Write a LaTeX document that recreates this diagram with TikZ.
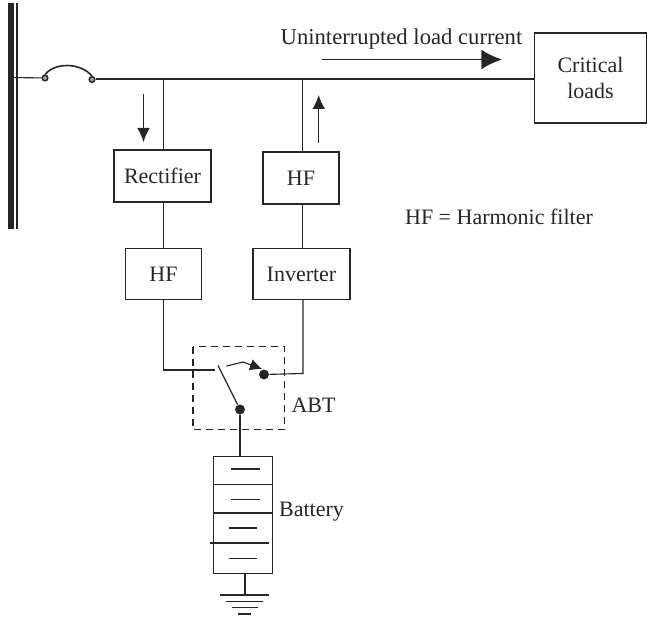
\documentclass[tikz,border=0pt]{standalone}
\usepackage{fontspec}
\setmainfont{Liberation Serif}
\usetikzlibrary{arrows.meta}
\begin{document}
\begin{tikzpicture}[x=.75pt,y=-.75pt,line width=.85pt,color=black!85,
  unit/.style={draw,inner sep=0pt,font=\fontsize{16.5}{19.5}\selectfont},
  label/.style={inner sep=0pt,font=\fontsize{16.5}{19.5}\selectfont},
  contact/.style={circle,fill,inner sep=0pt,minimum size=7.5pt},
  breaker/.style={circle,draw,fill=black!35,line width=1.1pt,inner sep=0pt,minimum size=4.2pt},
  bigflow/.style={-{Latex[length=15.5pt,width=15pt]},line width=1.4pt},
  flow/.style={-{Latex[length=10.5pt,width=9.5pt]}}]
\useasboundingbox (0,0) rectangle (647,617);
% busbar
\draw[line width=4.2pt] (11.2,3) -- (11.2,229);
\draw[line width=1.6pt] (17.2,3) -- (17.2,229);
% units
\node[unit,minimum width=72.75pt,minimum height=39pt] (rectifier) at (162.5,176) {Rectifier};
\node[unit,minimum width=57pt,minimum height=38pt] (hfleft) at (163.5,274) {HF};
\node[unit,minimum width=57pt,minimum height=39pt] (hfright) at (301,178) {HF};
\node[unit,minimum width=72.75pt,minimum height=38pt] (inverter) at (301.5,274) {Inverter};
\node[unit,minimum width=84pt,minimum height=67.5pt,align=center] (critical) at (590.5,78) {Critical\\loads};
% breaker and main line
\node[breaker] (brkleft) at (45,78) {};
\node[breaker] (brkright) at (92,79.5) {};
\coordinate (busfeed) at (13,77.5);
\coordinate (tapleft) at (163.5,80);
\coordinate (tapright) at (302.5,80);
\draw (busfeed) -- (brkleft);
\draw[line width=1.2pt] (brkleft.north) .. controls (55,62.3) and (80,62.3) .. (brkright.north);
\draw[line width=1.5pt] (brkright) -- (critical.west |- brkright);
\draw (tapleft) -- (rectifier.north -| tapleft);
\draw (rectifier.south -| tapleft) -- (hfleft.north -| tapleft);
\draw (tapright) -- (hfright.north -| tapright);
\draw (hfright.south -| tapright) -- (inverter.north -| tapright);
% ABT
\draw[dashed,dash pattern=on 5.5pt off 3.5pt] (193,346.7) rectangle (284.7,429.7);
\node[contact] (contactout) at (264,374.5) {};
\node[contact] (contactbat) at (240,409.5) {};
\coordinate (bladetop) at (218,365.5);
\coordinate (wireleft) at (215,370);
\coordinate (wireright) at (303,373.5);
\draw (hfleft.south -| tapleft) |- (wireleft);
\draw (inverter.south -| wireright) -- (wireright) -- (contactout);
\draw (bladetop) -- (contactbat);
\draw[-{Latex[length=9pt,width=9pt]}] (226.5,366) -- (243,362) -- (262,369);
\node[label] (abt) at (313.5,405) {ABT};
% battery
\node[draw,inner sep=0pt,minimum width=44pt,minimum height=88pt] (battery) at (242.75,514.8) {};
\draw (contactbat) -- (contactbat |- battery.north);
\draw (battery.west |- 0,484.5) -- (battery.east |- 0,484.5);
\draw (battery.west |- 0,513) -- (battery.east |- 0,513);
\draw (210,543) -- (269,543);
\draw (231,469) -- (260,469);
\draw (231,499.5) -- (260,499.5);
\draw (229,528) -- (257,528);
\draw (229,558.5) -- (257,558.5);
\node[label] (batterytext) at (311.5,512) {Battery};
% ground
\coordinate (gnd) at (245,595);
\draw (battery.south -| gnd) -- (gnd);
\draw (220,595) -- (269,595);
\draw (226,601.7) -- (263,601.7);
\draw (232,607.5) -- (258,607.5);
\draw (238,614) -- (251,614);
% flow arrows
\draw[flow] (143.5,94) -- (143.5,142);
\draw[flow] (318.7,143) -- (318.7,95);
\draw[bigflow] (322,59.5) -- (502,59.5);
% texts
\node[label,font=\fontsize{17}{19.5}\selectfont] (loadcurrent) at (401.5,39) {Uninterrupted load current};
\node[label] (hfnote) at (499,217) {HF = Harmonic filter};
\end{tikzpicture}
\end{document}
